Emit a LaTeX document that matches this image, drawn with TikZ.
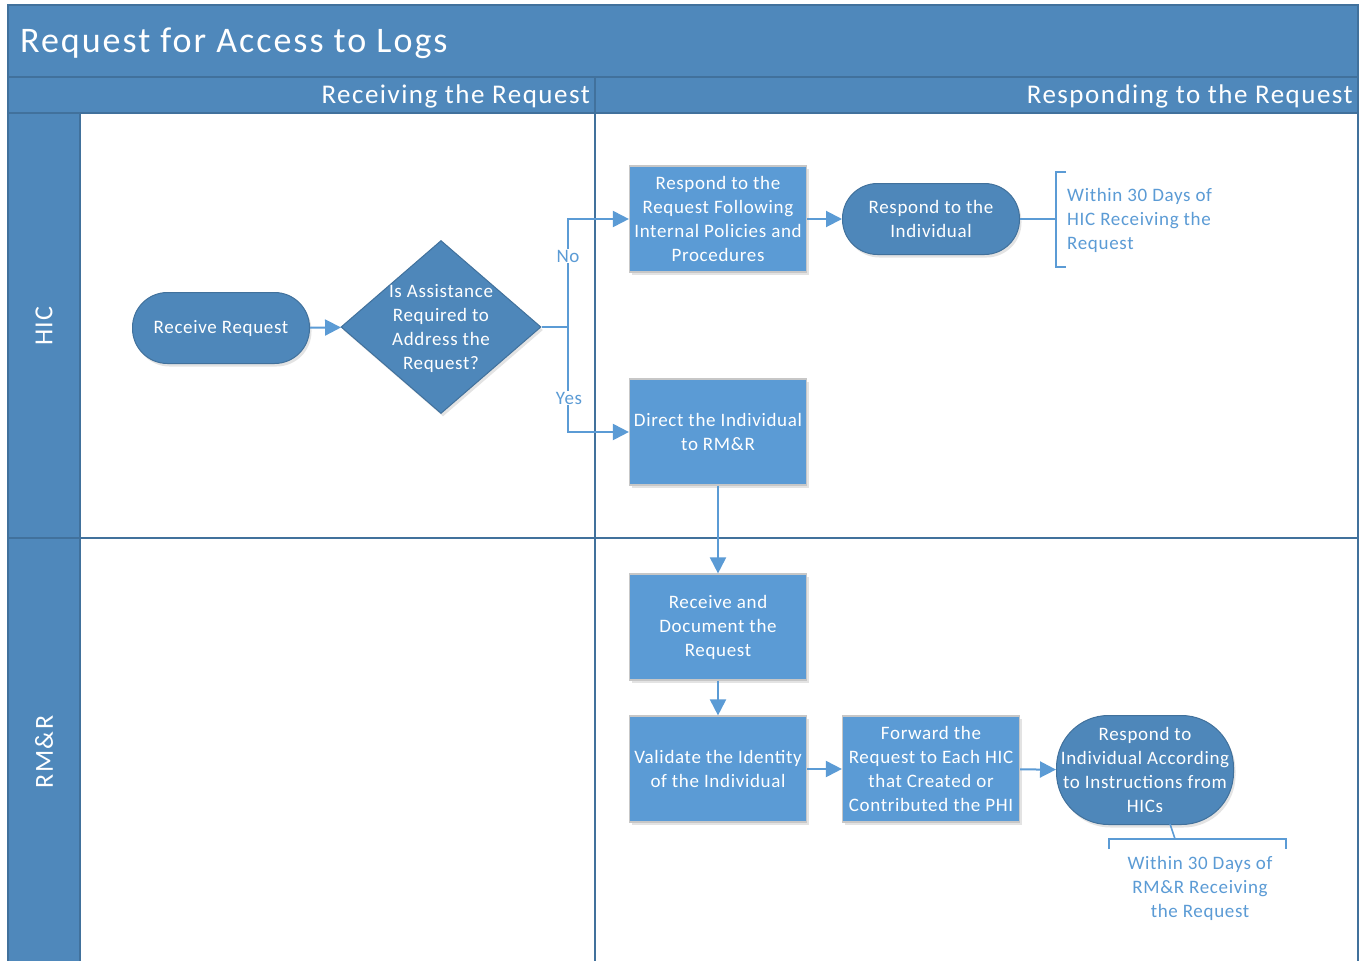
\documentclass[tikz,border=0pt]{standalone}
\usepackage{fontspec}
\setmainfont{Carlito}[LetterSpace=3.5]
\newfontfamily\headfont{Carlito}[LetterSpace=5.5]
\usetikzlibrary{shapes.geometric,arrows.meta,shadows}
\definecolor{pool}{HTML}{4F88BB}
\definecolor{poolline}{HTML}{41719C}
\definecolor{boxfill}{HTML}{5B9BD5}
\definecolor{termfill}{HTML}{4E87BA}
\definecolor{link}{HTML}{5B9BD5}
\tikzset{
  nodefont/.style={font=\fontsize{19}{24}\selectfont},
  softshadow/.style={drop shadow={opacity=0.22, shadow xshift=2pt, shadow yshift=-3pt}},
  procbox/.style={nodefont, draw=black!22, line width=1.2pt, fill=boxfill, text=white,
    minimum width=177pt, minimum height=106pt, inner sep=0pt, align=center, softshadow},
  terminal/.style={nodefont, draw=poolline, line width=1pt, fill=termfill, text=white,
    minimum width=177pt, minimum height=71pt, inner sep=0pt, align=center,
    rounded corners=35pt, softshadow},
  decision/.style={shape=diamond, draw=poolline, line width=1pt, fill=termfill,
    minimum width=200pt, minimum height=173pt, inner sep=0pt, softshadow},
  flow/.style={draw=link, line width=2pt, -{Triangle[length=16pt,width=16pt]}},
  plain/.style={draw=link, line width=2pt},
  bracket/.style={draw=link, line width=1.6pt},
  lbl/.style={nodefont, text=link, fill=white, inner sep=1pt},
  note/.style={nodefont, text=link, inner sep=0pt},
  poolrule/.style={draw=poolline, line width=1.2pt},
}
\begin{document}
\begin{tikzpicture}[x=1pt,y=-1pt]
\useasboundingbox (0,0) rectangle (1371,961);
\fill[white] (0,0) rectangle (1371,961);

% pool: title bar, phase header and lane column
\fill[pool] (8,5) rectangle (1358,113);
\fill[pool] (8,113) rectangle (80,961);
\draw[poolrule] (8,961) -- (8,5) -- (1358,5) -- (1358,961);
\draw[poolrule] (8,77) -- (1358,77);
\draw[poolrule] (8,113) -- (1358,113);
\draw[poolrule] (80,113) -- (80,961);
\draw[poolrule] (8,538) -- (1358,538);
\draw[poolrule] (595,77) -- (595,961);

\node[text=white, font=\headfont\fontsize{36}{40}\selectfont, anchor=west, inner sep=0pt] (title) at (20,43) {Request for Access to Logs};
\node[text=white, font=\headfont\fontsize{27}{30}\selectfont, anchor=east, inner sep=0pt] (phaseA) at (590,96) {Receiving the Request};
\node[text=white, font=\headfont\fontsize{27}{30}\selectfont, anchor=east, inner sep=0pt] (phaseB) at (1353,96) {Responding to the Request};
\node[text=white, font=\headfont\fontsize{26}{28}\selectfont, rotate=90, inner sep=0pt] (laneA) at (44,326) {HIC};
\node[text=white, font=\headfont\fontsize{26}{28}\selectfont, rotate=90, inner sep=0pt] (laneB) at (44,752) {RM\&R};

% process steps
\node[terminal] (recv) at (221,328) {Receive Request};
\node[decision] (dec) at (441,327) {};
\node[nodefont, text=white, align=center, inner sep=0pt] (dectext) at (441,328) {Is Assistance\\Required to\\Address the\\Request?};
\node[procbox] (respInt) at (718,219) {Respond to the\\Request Following\\Internal Policies and\\Procedures};
\node[terminal] (respInd) at (931,219) {Respond to the\\Individual};
\node[procbox] (direct) at (718,432) {Direct the Individual\\to RM\&R};
\node[procbox] (recdoc) at (718,627) {Receive and\\Document the\\Request};
\node[procbox] (valid) at (718,769) {Validate the Identity\\of the Individual};
\node[procbox] (fwd) at (931,769) {Forward the\\Request to Each HIC\\that Created or\\Contributed the PHI};
\node[terminal, minimum height=109pt, rounded corners=52pt] (respHIC) at (1145,770) {Respond to\\Individual According\\to Instructions from\\HICs};

% connectors
\coordinate (split) at (568,327);
\draw[flow] (recv) -- (dec);
\draw[plain] (dec.east) -- (split);
\draw[flow] (split) |- (respInt.west);
\draw[flow] (split) |- (direct.west);
\node[lbl] (nolbl) at (568,256) {No};
\node[lbl] (yeslbl) at (569,398) {Yes};
\draw[flow] (respInt) -- (respInd);
\draw[flow] (direct) -- (recdoc);
\draw[flow] (recdoc) -- (valid);
\draw[flow] (valid) -- (fwd);
\draw[flow] (fwd) -- (respHIC);

% annotation on the HIC response
\coordinate (noteA) at (1056,219);
\draw[bracket] (respInd.east) -- (noteA);
\draw[bracket] (1066,172) -- (1056,172) -- (1056,267) -- (1066,267);
\node[note, anchor=west, align=left] (noteAtext) at (1067,220) {Within 30 Days of\\HIC Receiving the\\Request};

% annotation on the RM&R response
\coordinate (hicfoot) at (1170,824);
\coordinate (noteB) at (1175,839);
\draw[bracket] (hicfoot) -- (noteB);
\draw[bracket] (1109,849) -- (1109,839) -- (1286,839) -- (1286,849);
\node[note, align=center] (noteBtext) at (1200,888) {Within 30 Days of\\RM\&R Receiving\\the Request};
\end{tikzpicture}
\end{document}
